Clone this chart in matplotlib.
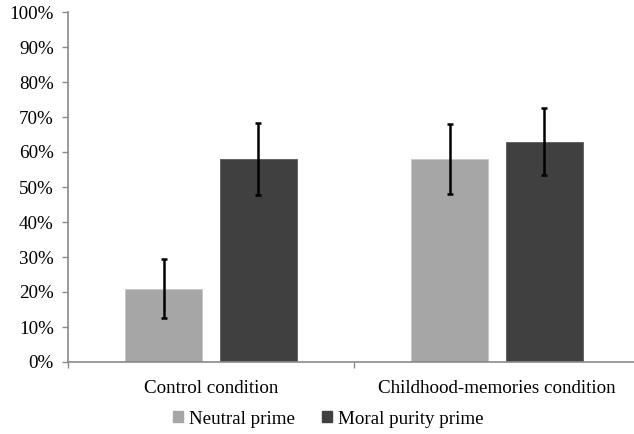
import matplotlib.pyplot as plt
import numpy as np
from matplotlib.patches import Patch
from matplotlib.ticker import FixedLocator

# data
conditions = ['Control condition', 'Childhood-memories condition']
neutral = [21, 58]
neutral_err = [8.4, 10.0]
moral = [58, 63]
moral_err = [10.2, 9.5]
yticks = list(range(0, 101, 10))

light = '#a6a6a6'
dark = '#404040'
axis_col = '#8a8a8a'

plt.rcParams['font.family'] = ['Liberation Serif', 'DejaVu Serif']

fig = plt.figure(figsize=(6.34, 4.34), dpi=100)
ax = fig.add_axes([68 / 634, 72 / 434, 566 / 634, 350 / 434])

x = np.arange(len(conditions))
w = 0.269
off = 0.165
err_kw = dict(ecolor='black', elinewidth=1.8, capsize=1.9, capthick=1.8)
ax.bar(x - off, neutral, w, yerr=neutral_err, color=light, edgecolor='#c8c8c8',
       linewidth=0.6, error_kw=err_kw)
ax.bar(x + off, moral, w, yerr=moral_err, color=dark, edgecolor='#5a5a5a',
       linewidth=0.6, error_kw=err_kw)

ax.set_xlim(-0.5, 1.5 - 6 / 286)
ax.set_ylim(0, 100)
ax.set_yticks(yticks)
ax.set_yticklabels([f'{v}%' for v in yticks])
ax.set_xticks(x)
ax.set_xticklabels(conditions)
ax.xaxis.set_minor_locator(FixedLocator([-0.5, 0.5, 1.5]))

for s in ['top', 'right']:
    ax.spines[s].set_visible(False)
for s in ['left', 'bottom']:
    ax.spines[s].set_color(axis_col)
    ax.spines[s].set_linewidth(1.2)

ax.tick_params(axis='y', length=4.3, width=1, color=axis_col, pad=6,
               labelsize=13.7)
ax.tick_params(axis='x', which='major', length=0, pad=13, labelsize=13.7)
ax.tick_params(axis='x', which='minor', length=4, width=1, color=axis_col)

handles = [Patch(color=light, label='Neutral prime'),
           Patch(color=dark, label='Moral purity prime')]
fig.legend(handles=handles, loc='center', bbox_to_anchor=(328.5 / 634, 15 / 434),
           ncol=2, frameon=False, fontsize=13.7, handlelength=0.5,
           handleheight=0.5, handletextpad=0.35, columnspacing=1.4)

fig.savefig('out.png', dpi=100)
